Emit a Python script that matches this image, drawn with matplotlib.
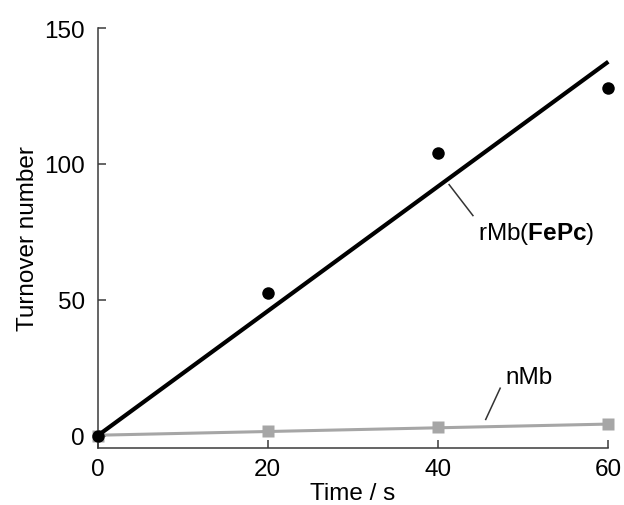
import matplotlib
matplotlib.use("Agg")
import matplotlib.pyplot as plt

plt.rcParams['font.family'] = ['Liberation Sans', 'DejaVu Sans']
plt.rcParams['mathtext.fontset'] = 'custom'
plt.rcParams['mathtext.rm'] = 'Liberation Sans'
plt.rcParams['mathtext.bf'] = 'Liberation Sans:bold'

# Data
time_s = [0, 20, 40, 60]
rmb_turnover = [0, 52.6, 103.9, 127.8]
nmb_turnover = [0, 1.6, 3.2, 4.2]
fit_x = [0, 60]
rmb_fit = [0, 137.6]
nmb_fit = [0.2, 4.3]
xticks = [0, 20, 40, 60]
yticks = [0, 50, 100, 150]

FS = 17.5

fig = plt.figure(figsize=(6.24, 5.06), dpi=100)
ax = fig.add_axes([97.5 / 624, 1 - 449 / 506, (608.3 - 97.5) / 624, (449 - 29) / 506])

gray = '#a6a6a6'
spine_col = '#3a3a3a'

ax.plot(fit_x, nmb_fit, color=gray, lw=2.2, solid_capstyle='butt', zorder=2, clip_on=False)
ax.plot(time_s, nmb_turnover, 's', color=gray, ms=9, mec='none', zorder=3, clip_on=False)
ax.plot(fit_x, rmb_fit, color='black', lw=3, solid_capstyle='butt', zorder=4, clip_on=False)
ax.plot(time_s, rmb_turnover, 'o', color='black', ms=9, mec='none', zorder=5, clip_on=False)

ax.set_xlim(0, 60)
ax.set_ylim(-4.5, 150)
ax.set_xticks(xticks)
ax.set_yticks(yticks)

for s in ['top', 'right']:
    ax.spines[s].set_visible(False)
for s in ['left', 'bottom']:
    ax.spines[s].set_color(spine_col)
    ax.spines[s].set_linewidth(1.1)
ax.spines['left'].set_bounds(-4.5, 150)
ax.spines['bottom'].set_bounds(0, 60)

ax.tick_params(axis='both', direction='in', length=6, width=1.1, color=spine_col,
               labelsize=FS, labelcolor='black')
ax.tick_params(axis='y', pad=9)
ax.tick_params(axis='x', pad=7)

ax.set_xlabel('Time / s', fontsize=FS, labelpad=2)
ax.set_ylabel('Turnover number', fontsize=FS, labelpad=4)

# annotations
ax.plot([41.3, 44.1], [92.4, 81.0], color='#333333', lw=1.1, clip_on=False)
ax.text(44.7, 72.4, r'rMb($\mathbf{FePc}$)', fontsize=FS, va='baseline', ha='left')
ax.plot([45.6, 47.3], [6.0, 17.5], color='#333333', lw=1.1, clip_on=False)
ax.text(47.9, 19.5, 'nMb', fontsize=FS, va='baseline', ha='left')

fig.savefig('out.png', dpi=100)
